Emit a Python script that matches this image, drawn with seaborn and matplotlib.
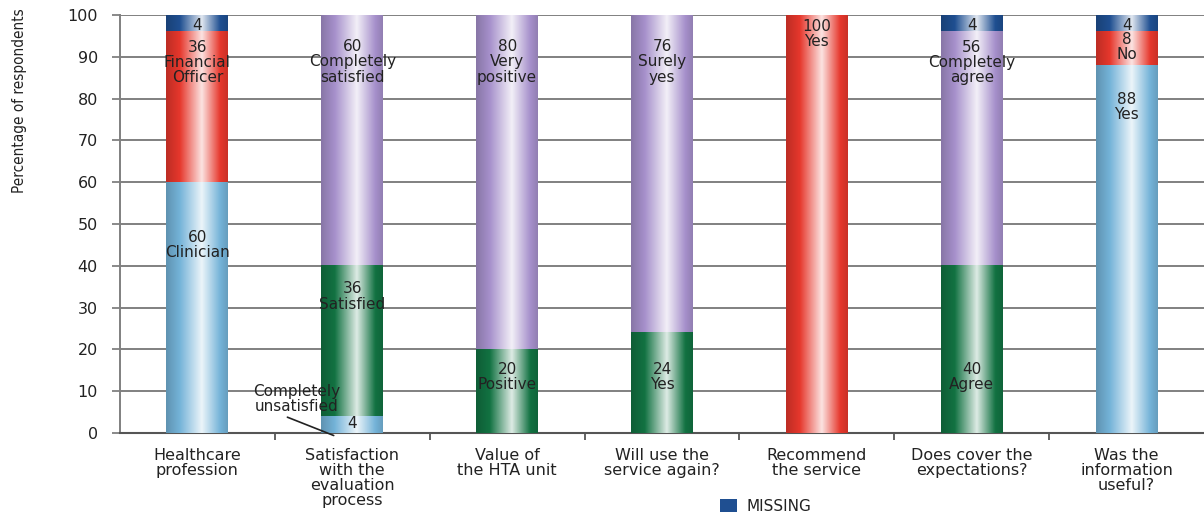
import numpy as np
import pandas as pd
import matplotlib
matplotlib.use("Agg")
import matplotlib.pyplot as plt
from matplotlib.patches import Patch
from matplotlib.colors import to_rgb
from matplotlib.ticker import MultipleLocator, FixedLocator
import seaborn as sns

# ---------------- data ----------------
categories = ["Healthcare\nprofession",
              "Satisfaction\nwith the\nevaluation\nprocess",
              "Value of\nthe HTA unit",
              "Will use the\nservice again?",
              "Recommend\nthe service",
              "Does cover the\nexpectations?",
              "Was the\ninformation\nuseful?"]

# segments, bottom to top within each category
seg_category = [0, 0, 0, 1, 1, 1, 2, 2, 3, 3, 4, 5, 5, 5, 6, 6, 6]
seg_value = [60, 36, 4, 4, 36, 60, 20, 80, 24, 76, 100, 40, 56, 4, 88, 8, 4]
seg_text = ["60\nClinician", "36\nFinancial\nOfficer", "4",
            "4", "36\nSatisfied", "60\nCompletely\nsatisfied",
            "20\nPositive", "80\nVery\npositive",
            "24\nYes", "76\nSurely\nyes",
            "100\nYes",
            "40\nAgree", "56\nCompletely\nagree", "4",
            "88\nYes", "8\nNo", "4"]
seg_kind = ["light", "red", "missing",
            "light", "green", "purple",
            "green", "purple",
            "green", "purple",
            "red",
            "green", "purple", "missing",
            "light", "red", "missing"]

# layout: top of each in-bar label (data units)
label_top = [48.6, 94.1, 99.4,
             4.0, 36.3, 94.2,
             17.1, 94.2,
             17.1, 94.2,
             99.0,
             17.1, 94.1, 99.4,
             81.6, 95.9, 99.4]

kind_colors = {"light": "#74b3d8", "red": "#e6372c", "green": "#127242",
               "purple": "#a690cb", "missing": "#1f4f91"}

# ---------------- frame ----------------
df = pd.DataFrame({"cat": [categories[i] for i in seg_category],
                   "value": seg_value, "text": seg_text, "kind": seg_kind,
                   "label_top": label_top})
df["level"] = df.groupby("cat").cumcount()
df["top"] = df.groupby("cat")["value"].cumsum()
df["bottom"] = df["top"] - df["value"]

sns.set_style("white")
plt.rcParams["font.family"] = ["DejaVu Sans"]

fig = plt.figure(figsize=(12.04, 5.14), dpi=100)
ax = fig.add_axes([120 / 1204, 81 / 514, 1084 / 1204, 418 / 514])


def gradient(c, n=96):
    c = np.array(to_rgb(c))
    white = np.ones(3)
    stops = [0.0, 0.22, 0.58, 0.88, 1.0]
    cols = [c * 0.82, c, c + (white - c) * 0.86, c, c * 0.88]
    xs = np.linspace(0, 1, n)
    out = np.stack([np.interp(xs, stops, [col[k] for col in cols]) for k in range(3)], axis=-1)
    return out[np.newaxis, :, :]


# draw layers from the highest level down so lower segments overlay upper ones
max_level = df["level"].max()
for i, lev in enumerate(range(max_level, -1, -1)):
    sub = df[df["level"] == lev]
    pal = {r.cat: kind_colors[r.kind] for r in sub.itertuples()}
    n_before = len(ax.patches)
    sns.barplot(data=sub, x="cat", y="top", hue="cat", order=categories,
                palette=pal, width=0.4, legend=False, ax=ax,
                saturation=1, linewidth=0, zorder=2 + 2 * i)
    for p in ax.patches[n_before:]:
        h = p.get_height()
        if not np.isfinite(h) or h <= 0:
            continue
        x0, y0, w = p.get_x(), p.get_y(), p.get_width()
        ax.imshow(gradient(p.get_facecolor()), extent=(x0, x0 + w, y0, y0 + h),
                  aspect="auto", interpolation="bilinear", zorder=3 + 2 * i)

# in-bar labels
for r in df.itertuples():
    ax.text(seg_category[r.Index], r.label_top, r.text, ha="center", va="top",
            fontsize=11, color="#222222", linespacing=1.02, zorder=20)

# outside label with leader line
ax.annotate("Completely\nunsatisfied", xy=(0.88, -0.6), xytext=(0.64, 11.8),
            ha="center", va="top", fontsize=11, color="#222222", linespacing=1.02,
            arrowprops=dict(arrowstyle="-", color="#222222", lw=1.2,
                            shrinkA=0, shrinkB=0,
                            relpos=(0.3, 0.0)),
            zorder=20, annotation_clip=False)

# axes styling
ax.set_xlim(-0.5, 6.5)
ax.set_ylim(0, 100)
ax.set_aspect("auto")
ax.yaxis.set_major_locator(MultipleLocator(10))
ax.set_axisbelow(True)
ax.yaxis.grid(True, color="#808080", lw=1.4, zorder=0.5)
ax.xaxis.grid(False)
ax.set_xlabel("")
ax.set_ylabel("Percentage of respondents",
              family=["DejaVu Sans Condensed", "Liberation Sans Narrow", "DejaVu Sans"],
              fontstretch="condensed", fontsize=11, color="#222222", loc="top")
ax.yaxis.set_label_coords(-0.086, 1.017)

ax.xaxis.set_minor_locator(FixedLocator(np.arange(0.5, 6.5, 1.0)))
ax.tick_params(axis="x", which="major", length=0, pad=11, labelsize=11.5,
               labelcolor="#222222")
ax.tick_params(axis="x", which="minor", length=5, width=1.3, color="#555555",
               direction="out", bottom=True)
ax.tick_params(axis="y", which="major", length=6, width=1.3, color="#808080",
               direction="out", pad=10, labelsize=11.5, labelcolor="#222222", left=True)
for lab in ax.get_xticklabels():
    lab.set_linespacing(1.0)
    lab.set_verticalalignment("top")

for s in ["top", "right"]:
    ax.spines[s].set_visible(False)
ax.spines["left"].set_color("#808080")
ax.spines["left"].set_linewidth(1.4)
ax.spines["bottom"].set_color("#555555")
ax.spines["bottom"].set_linewidth(1.5)

# legend
leg_handle = Patch(facecolor=kind_colors["missing"], edgecolor="none", label="MISSING")
fig.legend(handles=[leg_handle], loc="center left", bbox_to_anchor=(0.592, 0.015),
           frameon=False, fontsize=11, handlelength=1.1, handleheight=0.9,
           handletextpad=0.6, borderpad=0, labelcolor="#222222")

fig.savefig("out.png", dpi=100)
